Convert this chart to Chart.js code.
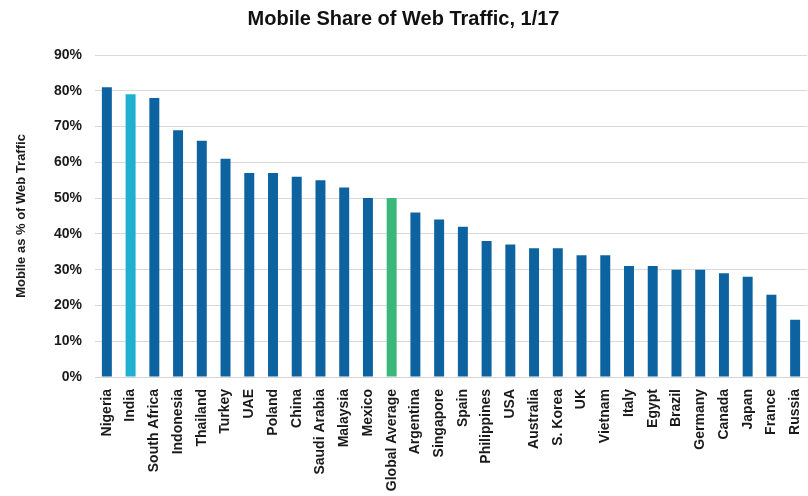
<!DOCTYPE html>
<html lang="en">
<head>
    <meta charset="UTF-8">
    <title>Mobile Share of Web Traffic</title>
    <style>
        html, body {
            margin: 0;
            padding: 0;
            background: #fff;
        }
        .chart-wrap {
            position: relative;
            width: 808px;
            height: 496px;
        }
    </style>
    <script src="https://cdn.jsdelivr.net/npm/chart.js@4.4.1/dist/chart.umd.min.js"></script>
</head>
<body>
<div class="chart-wrap">
    <canvas id="mobileShareChart"></canvas>
</div>

<script>
    // Countries, ordered by mobile share
    const countries = [
        'Nigeria', 'India', 'South Africa', 'Indonesia', 'Thailand', 'Turkey',
        'UAE', 'Poland', 'China', 'Saudi Arabia', 'Malaysia', 'Mexico',
        'Global Average', 'Argentina', 'Singapore', 'Spain', 'Philippines', 'USA',
        'Australia', 'S. Korea', 'UK', 'Vietnam', 'Italy', 'Egypt',
        'Brazil', 'Germany', 'Canada', 'Japan', 'France', 'Russia'
    ];

    // Mobile as % of web traffic
    const mobileShare = [
        81, 79, 78, 69, 66, 61,
        57, 57, 56, 55, 53, 50,
        50, 46, 44, 42, 38, 37,
        36, 36, 34, 34, 31, 31,
        30, 30, 29, 28, 23, 16
    ];

    const yTicks = [0, 10, 20, 30, 40, 50, 60, 70, 80, 90];

    const BASE_COLOR = '#0d63a0';
    const highlightColors = { 'India': '#1fafd1', 'Global Average': '#3bb77b' };
    const barColors = countries.map(c => highlightColors[c] || BASE_COLOR);

    const fontFamily = '"Liberation Sans", Arial, Helvetica, sans-serif';

    document.addEventListener('DOMContentLoaded', function() {
        const ctx = document.getElementById('mobileShareChart').getContext('2d');
        new Chart(ctx, {
            type: 'bar',
            data: {
                labels: countries,
                datasets: [{
                    label: 'Mobile share',
                    data: mobileShare,
                    backgroundColor: barColors,
                    borderWidth: 0,
                    categoryPercentage: 1,
                    barPercentage: 0.42
                }]
            },
            options: {
                responsive: true,
                maintainAspectRatio: false,
                animation: false,
                layout: { padding: { left: 0, right: 1, top: 0, bottom: 0 } },
                scales: {
                    x: {
                        grid: { display: false },
                        border: { color: '#d4d4d4' },
                        ticks: {
                            color: '#1a1a1a',
                            font: { family: fontFamily, size: 14, weight: 'bold' },
                            minRotation: 90,
                            maxRotation: 90,
                            autoSkip: false,
                            padding: 4
                        },
                        afterFit: scale => {
                            scale.height = 119;
                            // let the plot run to the right edge
                            scale.paddingLeft = 0;
                            scale.paddingRight = 0;
                        }
                    },
                    y: {
                        min: 0,
                        max: 90,
                        afterBuildTicks: scale => {
                            scale.ticks = yTicks.map(v => ({ value: v }));
                        },
                        grid: { color: '#d9d9d9', lineWidth: 1, drawTicks: false },
                        border: { display: false },
                        ticks: {
                            color: '#1a1a1a',
                            font: { family: fontFamily, size: 14, weight: 'bold' },
                            padding: 13,
                            callback: v => v + '%'
                        },
                        title: {
                            display: true,
                            text: 'Mobile as % of Web Traffic',
                            color: '#1a1a1a',
                            font: { family: fontFamily, size: 13, weight: 'bold' },
                            padding: { top: 14, bottom: 4 }
                        },
                        afterFit: scale => { scale.width = 95; }
                    }
                },
                plugins: {
                    legend: { display: false },
                    tooltip: { enabled: false },
                    title: {
                        display: true,
                        text: 'Mobile Share of Web Traffic, 1/17',
                        color: '#111',
                        font: { family: fontFamily, size: 20, weight: 'bold' },
                        padding: { top: 7, bottom: 24 }
                    }
                }
            }
        });
    });
</script>
</body>
</html>
